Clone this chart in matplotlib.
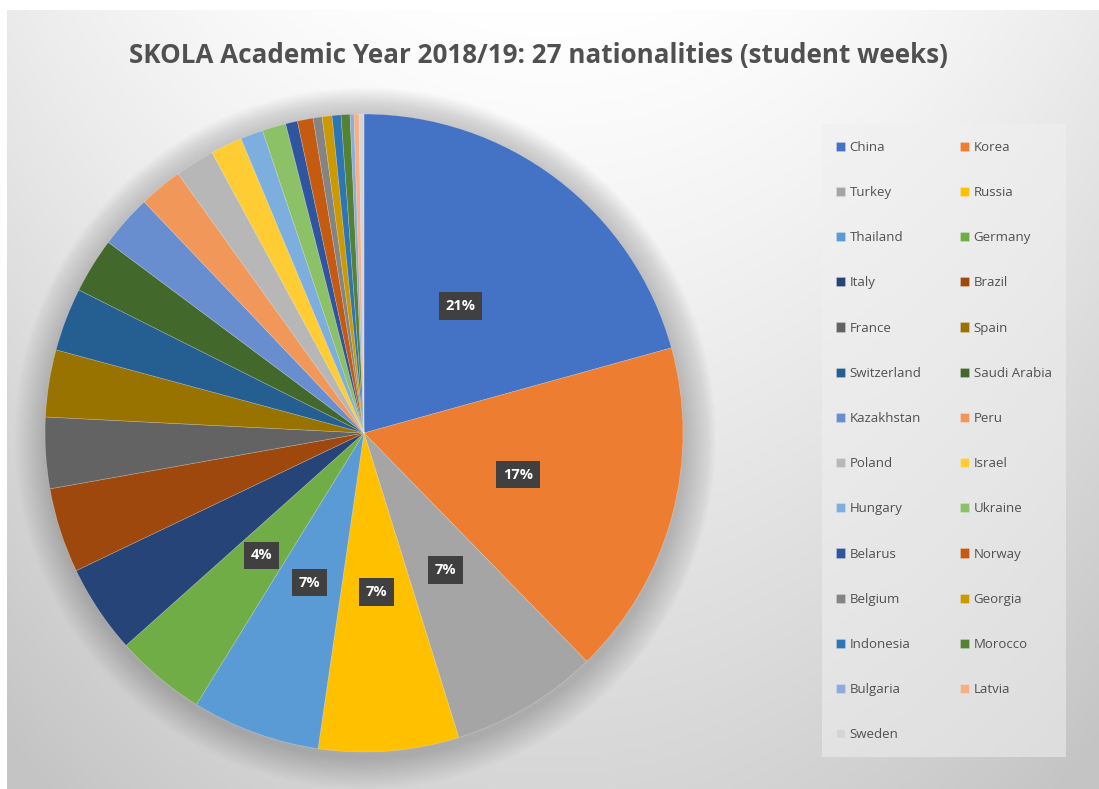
import numpy as np
import matplotlib
matplotlib.use("Agg")
import matplotlib.pyplot as plt
from matplotlib.patches import Circle, Rectangle

countries = ["China", "Korea", "Turkey", "Russia", "Thailand", "Germany", "Italy",
             "Brazil", "France", "Spain", "Switzerland", "Saudi Arabia", "Kazakhstan",
             "Peru", "Poland", "Israel", "Hungary", "Ukraine", "Belarus", "Norway",
             "Belgium", "Georgia", "Indonesia", "Morocco", "Bulgaria", "Latvia", "Sweden"]
shares = [20.7, 17.0, 7.5, 7.1, 6.5, 4.6, 4.5, 4.3, 3.6, 3.4, 3.2, 2.8, 2.7,
          2.2, 2.0, 1.6, 1.15, 1.2, 0.6, 0.8, 0.45, 0.5, 0.45, 0.45, 0.2, 0.25, 0.25]
shown_labels = ["21%", "17%", "7%", "7%", "7%", "4%"]
colors = ["#4472C4", "#ED7D31", "#A5A5A5", "#FFC000", "#5B9BD5", "#70AD47",
          "#264478", "#9E480E", "#636363", "#997300", "#255E91", "#43682B",
          "#698ED0", "#F1975A", "#B7B7B7", "#FFCD33", "#7CAFDD", "#8CC168",
          "#2F55A0", "#C55A11", "#848484", "#CC9A00", "#2E75B6", "#548235",
          "#8FAADC", "#F4B183", "#D5D5D5"]
title = "SKOLA Academic Year 2018/19: 27 nationalities (student weeks)"

W, H = 1099, 789
fig = plt.figure(figsize=(W / 100, H / 100), dpi=100)
fig.patch.set_facecolor("white")

# background gradient (chart area)
bg = fig.add_axes([7 / W, 0, 1 - 7 / W, 1 - 10 / H])
bg.set_axis_off()
yy, xx = np.mgrid[0:1:300j, 0:1:400j]
dxn = (xx - 0.5) / 0.5
val = np.clip(1.0 - 0.08 * dxn ** 2 - 0.16 * yy ** 1.1, 0.77, 1.0)
bg.imshow(np.dstack([val, val, val]), aspect="auto", extent=[0, 1, 0, 1], origin="upper")
# legend box
bg.add_patch(Rectangle(((822 - 7) / (W - 7), (789 - 757) / (H - 10)),
                       (1066 - 822) / (W - 7), (757 - 124) / (H - 10),
                       transform=bg.transAxes, facecolor="#f0f0f0", alpha=0.55,
                       edgecolor="none"))

cx, cy, R = 364, 433, 319
ax = fig.add_axes([(cx - R) / W, (H - cy - R) / H, 2 * R / W, 2 * R / H])
ax.set_axis_off()
# soft shadow
for i in range(22):
    r = 1.0 + 0.0045 * (i + 1)
    ax.add_patch(Circle((0.004, -0.016), r, facecolor="#707070", alpha=0.018,
                        edgecolor="none", zorder=0, clip_on=False))
wedges, _ = ax.pie(shares, colors=colors, startangle=90, counterclock=False,
                   radius=1.0, wedgeprops=dict(linewidth=0.4, edgecolor=(1, 1, 1, 0.35)))
for w in wedges:
    w.set_zorder(2)
    w.set_clip_on(False)
total = sum(shares)
cum = 0.0
for i, v in enumerate(shares):
    mid = cum + v / 2
    cum += v
    if i < len(shown_labels):
        ang = np.deg2rad(90 - 360 * mid / total)
        ax.text(0.5 * np.cos(ang), 0.5 * np.sin(ang), shown_labels[i], ha="center",
                va="center", color="white", fontsize=10.5, fontweight="bold",
                family=["Open Sans", "DejaVu Sans"], zorder=5,
                bbox=dict(boxstyle="square,pad=0.45", facecolor="#404040",
                          edgecolor="none"))
ax.set_xlim(-1, 1)
ax.set_ylim(-1, 1)

order = list(range(0, 27, 2)) + list(range(1, 27, 2))
leg = fig.legend([wedges[i] for i in order], [countries[i] for i in order],
                 ncol=2, loc="upper left", bbox_to_anchor=(824 / W, 1 - 129 / H),
                 frameon=False, labelspacing=2.44, handlelength=0.7,
                 handleheight=0.7, handletextpad=0.35, columnspacing=2.9,
                 prop=dict(family=["Open Sans", "DejaVu Sans"], size=9.5))
for t in leg.get_texts():
    t.set_color("#505050")

fig.text(538 / W, 1 - 55 / H, title, ha="center", va="center", fontsize=18.7,
         fontweight="bold", color="#505050",
         family=["Open Sans", "DejaVu Sans"])

fig.savefig("out.png", dpi=100)
